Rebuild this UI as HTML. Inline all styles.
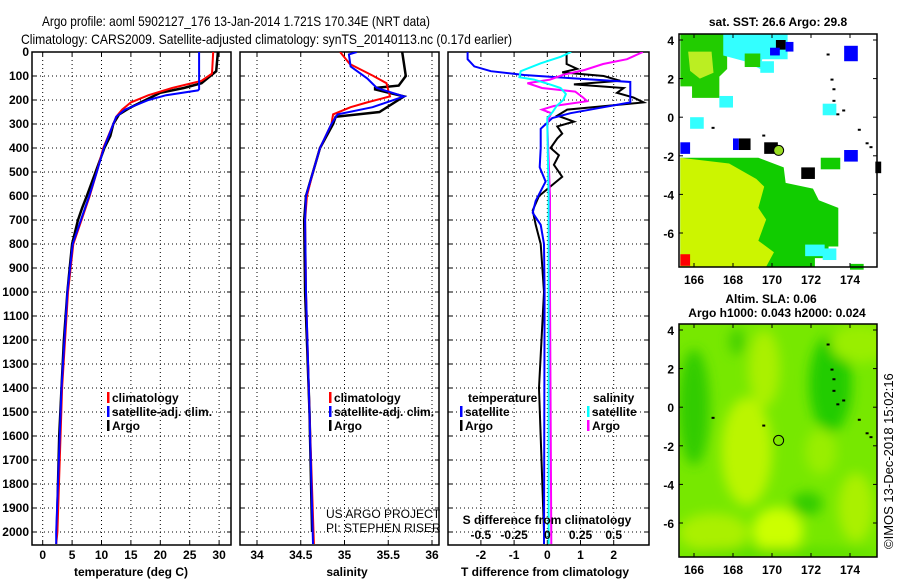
<!DOCTYPE html>
<html><head><meta charset="utf-8"><style>
body{margin:0;background:#fff}
svg{display:block;font-family:"Liberation Sans",Arial,sans-serif}
.b{font-weight:bold;font-size:12px}
</style></head><body>
<svg id="c" width="900" height="580" viewBox="0 0 900 580">
<text x="42" y="26" font-size="14" textLength="388" lengthAdjust="spacingAndGlyphs">Argo profile: aoml 5902127_176 13-Jan-2014 1.721S 170.34E (NRT data)</text>
<text x="21" y="44" font-size="14" textLength="491" lengthAdjust="spacingAndGlyphs">Climatology: CARS2009. Satellite-adjusted climatology: synTS_20140113.nc (0.17d earlier)</text>
<g id="maps"></g>
<g id="plots"></g>
</svg>
<script>
const NS="http://www.w3.org/2000/svg";
const svg=document.getElementById('c');
function el(t,a,p){const e=document.createElementNS(NS,t);for(const k in a)e.setAttribute(k,a[k]);(p||svg).appendChild(e);return e;}

// ---------- data ----------
const depthTicks=[0,100,200,300,400,500,600,700,800,900,1000,1100,1200,1300,1400,1500,1600,1700,1800,1900,2000];
const tempTicks=[0,5,10,15,20,25,30];
const salTicks=[34,34.5,35,35.5,36];
const salTickLabels=["34","34.5","35","35.5","36"];
const tdiffTicks=[-2,-1,0,1,2];
const sdiffTicks=[-0.5,-0.25,0,0.25,0.5];
const sdiffLabels=["-0.5","-0.25","0","0.25","0.5"];

const argoTempD=[0,80,100,130,150,170,200,230,260,300,350,400,500,600,650,700,800,900,1000,1200,1400,1600,1800,2000];
const argoTempV=[29.8,29.5,28.5,27,24,20,17.5,15,13,12,11.5,10.5,9,7.5,6.7,6,5,4.6,4.2,3.6,3.2,2.8,2.6,2.4];
const climTempD=[0,90,120,150,180,210,240,270,300,400,500,600,700,800,1000,1400,2000,2050];
const climTempV=[29,28.8,27,22,18,15,13.5,12.5,12,10.3,9.2,8,6.6,5.2,4.3,3.3,2.5,2.3];
const satTempD=[0,155,160,180,200,240,270,300,400,500,600,700,800,1000,1400,2000,2050];
const satTempV=[26.6,26.6,26.4,21,18,14,12.5,12,10.4,9.2,7.9,6.5,5.1,4.2,3.2,2.3,2.3];

const argoSalD=[0,100,140,150,156,185,250,270,300,400,500,600,700,1000,1200,1500,2000];
const argoSalV=[35.66,35.7,35.62,35.35,35.35,35.68,35.4,34.9,34.87,34.72,34.64,34.56,34.54,34.55,34.57,34.6,34.63];
const climSalD=[0,50,100,130,160,185,210,230,260,300,400,500,600,700,1000,1500,2050];
const climSalV=[34.95,35.06,35.33,35.48,35.5,35.52,35.26,35.07,34.87,34.85,34.72,34.64,34.57,34.55,34.56,34.6,34.65];
const satSalD=[0,10,60,110,150,185,230,260,300,400,500,600,700,1000,1500,2050];
const satSalV=[35.14,35.05,35.07,35.26,35.37,35.68,35.32,34.92,34.85,34.72,34.64,34.56,34.55,34.56,34.6,34.64];

const satTdD=[0,30,60,80,96,110,125,210,230,255,275,320,400,480,540,620,670,720,800,1000,2050];
const satTdV=[-2.4,-2.4,-2.2,-1.7,-0.7,0.8,2.5,2.5,1.7,0.7,0.15,-0.2,-0.2,-0.23,-0.05,-0.35,-0.44,-0.2,-0.1,-0.08,-0.1];
const argoTdD=[0,50,70,85,100,120,135,150,170,190,210,240,265,290,310,340,360,400,430,470,520,560,600,660,720,800,1000,1400,2000];
const argoTdV=[0.58,0.58,0.9,0.45,1.7,2.2,0.8,2.3,2.1,2.6,2.9,0.6,0.3,0.8,0.3,0.45,0.3,0.1,0.35,0.2,0.45,0.1,-0.25,-0.44,-0.35,-0.2,-0.1,-0.25,-0.1];
const satSdD=[0,20,47,80,105,115,135,150,175,200,225,250,275,300,600,1000,2050];
const satSdV=[0.18,0.1,-0.05,-0.2,-0.21,-0.1,0.02,0.1,0.14,0.12,0.07,0.04,0,0,0.01,0.01,0.01];
const argoSdD=[0,30,50,75,95,115,130,150,165,190,205,225,240,255,280,300,600,1000,2050];
const argoSdV=[0.72,0.6,0.42,0.28,0.12,0.02,-0.15,-0.04,0.21,0.27,0.3,0.05,-0.04,0.03,0.01,0,0.02,0.02,0.03];

// ---------- axes ----------
const Y0=52, PPD=0.24, YB=545;
const yD=d=>Y0+d*PPD;
const xT=v=>42.7+v*5.88;
const xS=v=>257+(v-34)*87.5;
const xTd=v=>547.3+v*33.2;
const xSd=v=>547.3+v*132.8;

const P=document.getElementById('plots');
const panels=[
 {id:'temperature',x0:32,x1:231,ticks:tempTicks,labels:tempTicks.map(String),fx:xT,title:'temperature (deg C)',tx:131},
 {id:'salinity',x0:240,x1:439,ticks:salTicks,labels:salTickLabels,fx:xS,title:'salinity',tx:347},
 {id:'difference',x0:448,x1:649,ticks:tdiffTicks,labels:tdiffTicks.map(String),fx:xTd,title:'T difference from climatology',tx:545}
];
panels.forEach(p=>{
  const g=el('g',{},P);
  
  
  const cp=el('clipPath',{id:'cp-'+p.id},g);
  el('rect',{x:p.x0,y:Y0,width:p.x1-p.x0,height:YB-Y0},cp);
  depthTicks.forEach(d=>{
    const y=yD(d);
    el('line',{x1:p.x0,x2:p.x1,y1:y,y2:y,stroke:'#000','stroke-width':1,'stroke-dasharray':'1 3'},g);
    el('line',{x1:p.x0,x2:p.x0+4,y1:y,y2:y,stroke:'#000'},g);
    el('line',{x1:p.x1-4,x2:p.x1,y1:y,y2:y,stroke:'#000'},g);
  });
  p.ticks.forEach((v,i)=>{
    const x=p.fx(v);
    el('line',{x1:x,x2:x,y1:Y0,y2:YB,stroke:'#000','stroke-dasharray':'1 3'},g);
    el('line',{x1:x,x2:x,y1:YB,y2:YB-4,stroke:'#000'},g);
    el('line',{x1:x,x2:x,y1:Y0,y2:Y0+4,stroke:'#000'},g);
    const t=el('text',{x:x,y:559,'text-anchor':'middle',class:'b'},g);t.textContent=p.labels[i];
    
    
  });
  el('rect',{x:p.x0,y:Y0,width:p.x1-p.x0,height:YB-Y0,fill:'none',stroke:'#000','stroke-width':1.5},g);
  const tt=el('text',{x:p.tx,y:576,'text-anchor':'middle',class:'b'},g);tt.textContent=p.title;
  
  
  p.g=g;
});
depthTicks.forEach(d=>{
  const t=el('text',{x:29,y:yD(d)+4,'text-anchor':'end',class:'b'},P);t.textContent=String(d);
  
  
});

function line(panel,D,V,fx,col,w,name){
  const pts=D.map((d,i)=>fx(V[i]).toFixed(1)+','+yD(d).toFixed(1)).join(' ');
  const l=el('polyline',{points:pts,fill:'none',stroke:col,'stroke-width':w,'clip-path':'url(#cp-'+panel.id+')'},panel.g);
  
  
}
const [pT,pS,pD]=panels;
line(pT,argoTempD,argoTempV,xT,'#000',2.5,'argo-temperature-line');
line(pT,climTempD,climTempV,xT,'#f00',2,'climatology-temperature-line');
line(pT,satTempD,satTempV,xT,'#00f',2,'satellite-temperature-line');
line(pS,argoSalD,argoSalV,xS,'#000',2.5,'argo-salinity-line');
line(pS,climSalD,climSalV,xS,'#f00',2,'climatology-salinity-line');
line(pS,satSalD,satSalV,xS,'#00f',2,'satellite-salinity-line');
line(pD,argoTdD,argoTdV,xTd,'#000',2,'argo-t-diff-line');
line(pD,satTdD,satTdV,xTd,'#00f',2,'satellite-t-diff-line');
line(pD,argoSdD,argoSdV,xSd,'#f0f',2,'argo-s-diff-line');
line(pD,satSdD,satSdV,xSd,'#0ff',2,'satellite-s-diff-line');

// S diff ticks row
sdiffTicks.forEach((v,i)=>{
  const t=el('text',{x:xSd(v),y:539,'text-anchor':'middle',class:'b'},P);t.textContent=sdiffLabels[i];
  
  
});
{const t=el('text',{x:547,y:524,'text-anchor':'middle',class:'b'},P);t.textContent='S difference from climatology';

}

function legend(x,y,col,txt,name){
  const g=el('g',{},P);
  
  
  if(col) el('rect',{x:x,y:y-10,width:2.5,height:11,fill:col},g);
  const t=el('text',{x:x+(col?5:0),y:y,class:'b'},g);t.textContent=txt;
}
legend(107,402,'#f00','climatology','legend-climatology-t');
legend(107,416,'#00f','satellite-adj. clim.','legend-satellite-t');
legend(107,430,'#000','Argo','legend-argo-t');
legend(329,402,'#f00','climatology','legend-climatology-s');
legend(329,416,'#00f','satellite-adj. clim.','legend-satellite-s');
legend(329,430,'#000','Argo','legend-argo-s');
legend(468,402,null,'temperature','legend-temperature-head');
legend(460,416,'#00f','satellite','legend-satellite-td');
legend(460,430,'#000','Argo','legend-argo-td');
legend(593,402,null,'salinity','legend-salinity-head');
legend(587,416,'#0ff','satellite','legend-satellite-sd');
legend(587,430,'#f0f','Argo','legend-argo-sd');
{const g=el('g',{'font-size':'12'},P);


const a=el('text',{x:326,y:518},g);a.textContent='US ARGO PROJECT';
const b=el('text',{x:326,y:532},g);b.textContent='PI: STEPHEN RISER';}

// ---------- maps ----------
const M=document.getElementById('maps');
const mx=l=>694+(l-166)*19.5;
const my1=l=>40+(4-l)*19.3;
const my2=l=>330+(4-l)*19.3;
const lonTicks=[166,168,170,172,174];
const latTicks=[4,2,0,-2,-4,-6];
function mapFrame(top,bot,my,name){
  const g=el('g',{},M);
  
  
  lonTicks.forEach(l=>{const t=el('text',{x:mx(l),y:bot+17,'text-anchor':'middle',class:'b','font-size':'13'},g);t.textContent=l;
    el('line',{x1:mx(l),x2:mx(l),y1:top,y2:top+4,stroke:'#000'},g);el('line',{x1:mx(l),x2:mx(l),y1:bot,y2:bot-4,stroke:'#000'},g);});
  latTicks.forEach(l=>{const t=el('text',{x:674,y:my(l)+5,'text-anchor':'end',class:'b','font-size':'13'},g);t.textContent=l;
    el('line',{x1:679,x2:683,y1:my(l),y2:my(l),stroke:'#000'},g);el('line',{x1:873,x2:877,y1:my(l),y2:my(l),stroke:'#000'},g);});
  el('rect',{x:679,y:top,width:198,height:bot-top,fill:'none',stroke:'#000','stroke-width':1.5},g);
}
// map 1 (SST)
{
const g=el('g',{},M);


el('rect',{x:679,y:34,width:198,height:233,fill:'#fff'},g);
const poly=(pts,f)=>el('polygon',{points:pts.map(p=>mx(p[0])+','+my1(p[1])).join(' '),fill:f},g);
poly([[165.3,4.3],[167.7,4.3],[167.7,2.5],[167.3,2.1],[167.3,1.0],[165.9,1.0],[165.9,1.6],[165.3,1.6]],'#22cc00');
poly([[165.7,3.4],[166.9,3.4],[167.0,2.3],[166.3,2.0],[165.8,2.4]],'#bbee22');
poly([[167.5,4.3],[170.8,4.3],[170.8,3.0],[169.5,3.0],[169.4,2.5],[168.6,2.9],[167.5,3.2]],'#33ffff');
poly([[168.6,3.3],[169.4,3.3],[169.4,2.6],[168.6,2.6]],'#22cc00');
poly([[165.3,-2.1],[169.3,-2.1],[170.6,-2.6],[170.7,-3.4],[172.1,-3.7],[172.4,-4.3],[173.4,-4.7],[173.4,-6.7],[172.9,-6.7],[172.9,-7.3],[172.2,-7.3],[172.2,-7.75],[165.3,-7.75]],'#11cc00');
poly([[165.3,-2.1],[167.8,-2.4],[169.2,-3.2],[169.6,-3.6],[169.3,-4.7],[169.7,-5.3],[169.3,-6.4],[170.1,-7.0],[169.7,-7.75],[165.3,-7.75]],'#ccf500');
const sq=(lo,la,w,h,f)=>el('rect',{x:mx(lo),y:my1(la),width:w*19.5,height:h*19.3,fill:f},g);
sq(170.2,4.0,0.5,0.5,'#000');sq(169.9,3.6,0.5,0.4,'#00f');sq(170.7,3.9,0.4,0.5,'#00f');
sq(173.7,3.7,0.7,0.8,'#00f');sq(169.4,2.9,0.7,0.6,'#33ffff');sq(167.3,1.1,0.7,0.6,'#33ffff');
sq(165.8,0.0,0.7,0.6,'#33ffff');sq(172.6,0.7,0.7,0.6,'#33ffff');sq(165.3,-1.3,0.5,0.6,'#00f');
sq(168.0,-1.1,0.3,0.6,'#00f');sq(168.3,-1.1,0.6,0.6,'#000');sq(169.6,-1.3,0.7,0.6,'#000');
sq(173.7,-1.7,0.7,0.6,'#00f');sq(171.5,-2.6,0.7,0.6,'#000');sq(172.5,-2.1,1.0,0.6,'#11cc00');
sq(175.3,-2.3,0.3,0.6,'#000');sq(171.7,-6.6,1.0,0.6,'#33ffff');sq(172.6,-6.8,0.7,0.6,'#33ffff');
sq(165.3,-7.1,0.5,0.6,'#f00');sq(174.0,-7.6,0.7,0.3,'#11cc00');
el('circle',{cx:mx(170.34),cy:my1(-1.72),r:5,fill:'#99dd22',stroke:'#000'},g);
mapFrame(34,267,my1,'sst-map');
const t=el('text',{x:778,y:26,'text-anchor':'middle',class:'b','font-size':'13'},M);t.textContent='sat. SST: 26.6 Argo: 29.8';


}
// map 2 (SLA)
{
const g=el('g',{},M);


const f=el('filter',{id:'bl',x:'-50%',y:'-50%',width:'200%',height:'200%'},g);
el('feGaussianBlur',{stdDeviation:6},f);
const cp=el('clipPath',{id:'cpm2'},g);el('rect',{x:679,y:324,width:198,height:233},cp);
el('rect',{x:679,y:324,width:198,height:233,fill:'#77e800'},g);
const gg=el('g',{filter:'url(#bl)','clip-path':'url(#cpm2)'},g);
const ell=(lo,la,rx,ry,f)=>el('ellipse',{cx:mx(lo),cy:my2(la),rx:rx*19.5,ry:ry*19.3,fill:f},gg);
ell(166,0,0.8,3,'#33cc00');ell(173,1.2,1.1,2.5,'#22cc00');ell(169.6,2.0,0.8,2,'#aaf000');
ell(168.7,-2.3,1.3,2.8,'#bbf500');ell(170.3,-6.4,1.3,1.2,'#ccff00');ell(167,-6.5,1.8,1,'#aaf000');
ell(174.3,-5.2,0.9,1.8,'#aaf000');ell(171.8,-5.0,0.8,0.6,'#33cc00');ell(172.5,-2.3,0.8,1.2,'#99ee00');
ell(168.2,3.4,0.4,0.7,'#44d000');ell(174.5,3.3,1.5,1,'#99ee00');ell(170.5,-7.6,5,0.3,'#55dd00');
el('circle',{cx:mx(170.34),cy:my2(-1.72),r:5,fill:'none',stroke:'#000'},g);
mapFrame(324,557,my2,'sla-map');
const t1=el('text',{x:771,y:303,'text-anchor':'middle',class:'b','font-size':'13'},M);t1.textContent='Altim. SLA: 0.06';


const t2=el('text',{x:777,y:317,'text-anchor':'middle',class:'b','font-size':'13'},M);t2.textContent='Argo h1000: 0.043 h2000: 0.024';


}
// islands (small black marks)
[[172.8,3.3],[173,2],[173.1,1.5],[173.1,0.9],[173.6,0.4],[173.3,0.2],[174.4,-0.6],[174.8,-1.3],[175,-1.5],[169.5,-0.9],[166.9,-0.5]].forEach(p=>{
  el('rect',{x:mx(p[0]),y:my1(p[1]),width:3,height:2,fill:'#000'},M);
  el('rect',{x:mx(p[0]),y:my2(p[1]),width:3,height:2,fill:'#000'},M);
});
{const t=el('text',{x:0,y:0,'font-size':'13',transform:'translate(893,549) rotate(-90)'},M);t.textContent='©IMOS 13-Dec-2018 15:02:16';

}
</script>
</body></html>
